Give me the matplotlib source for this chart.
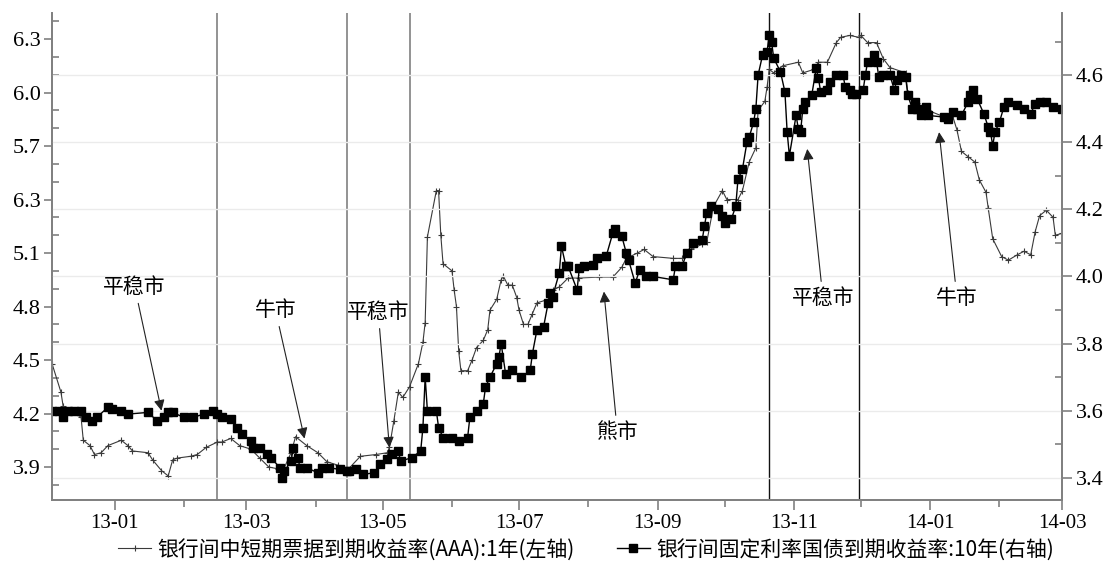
import numpy as np
import pandas as pd
import matplotlib
matplotlib.use("Agg")
import matplotlib.pyplot as plt
import matplotlib.dates as mdates
from matplotlib.ticker import FixedLocator, FixedFormatter, MultipleLocator

#%% - données

# 银行间中短期票据到期收益率(AAA):1年 (axe gauche)
s1_dates = [
    "2012-12-04", "2012-12-08", "2012-12-09", "2012-12-12", "2012-12-17", "2012-12-18",
    "2012-12-21", "2012-12-23", "2012-12-26", "2012-12-29", "2013-01-04", "2013-01-07",
    "2013-01-09", "2013-01-16", "2013-01-18", "2013-01-22", "2013-01-25", "2013-01-27",
    "2013-01-29", "2013-02-04", "2013-02-07", "2013-02-11", "2013-02-16", "2013-02-18",
    "2013-02-22", "2013-02-26", "2013-03-03", "2013-03-07", "2013-03-11", "2013-03-15",
    "2013-03-17", "2013-03-21", "2013-03-23", "2013-03-28", "2013-04-02", "2013-04-06",
    "2013-04-11", "2013-04-15", "2013-04-21", "2013-04-28", "2013-05-03", "2013-05-04",
    "2013-05-06", "2013-05-08", "2013-05-10", "2013-05-13", "2013-05-17", "2013-05-19",
    "2013-05-20", "2013-05-21", "2013-05-25", "2013-05-26", "2013-05-27", "2013-05-28",
    "2013-06-01", "2013-06-02", "2013-06-03", "2013-06-04", "2013-06-05", "2013-06-08",
    "2013-06-10", "2013-06-12", "2013-06-15", "2013-06-17", "2013-06-18", "2013-06-21",
    "2013-06-23", "2013-06-24", "2013-06-26", "2013-06-28", "2013-06-30", "2013-07-01",
    "2013-07-03", "2013-07-05", "2013-07-07", "2013-07-09", "2013-07-14", "2013-07-16",
    "2013-07-19", "2013-07-23", "2013-07-28", "2013-08-06", "2013-08-12", "2013-08-16",
    "2013-08-18", "2013-08-23", "2013-08-26", "2013-08-30", "2013-09-08", "2013-09-12",
    "2013-09-16", "2013-09-21", "2013-09-23", "2013-09-26", "2013-09-30", "2013-10-02",
    "2013-10-07", "2013-10-09", "2013-10-12", "2013-10-15", "2013-10-16", "2013-10-19",
    "2013-10-20", "2013-10-21", "2013-10-23", "2013-10-27", "2013-11-03", "2013-11-05",
    "2013-11-10", "2013-11-12", "2013-11-16", "2013-11-20", "2013-11-22", "2013-11-26",
    "2013-11-30", "2013-12-01", "2013-12-04", "2013-12-08", "2013-12-11", "2013-12-14",
    "2013-12-21", "2013-12-22", "2013-12-26", "2013-12-31", "2014-01-06", "2014-01-11",
    "2014-01-13", "2014-01-15", "2014-01-18", "2014-01-21", "2014-01-23", "2014-01-26",
    "2014-01-27", "2014-01-29", "2014-02-02", "2014-02-05", "2014-02-09", "2014-02-12",
    "2014-02-15", "2014-02-17", "2014-02-19", "2014-02-22", "2014-02-25", "2014-02-26",
    "2014-03-01",
]
s1_vals = [
    4.48, 4.32, 4.24, 4.22, 4.18, 4.05,
    4.02, 3.97, 3.98, 4.02, 4.05, 4.02,
    3.99, 3.98, 3.94, 3.88, 3.85, 3.94,
    3.95, 3.96, 3.97, 4.01, 4.04, 4.04,
    4.06, 4.02, 4.00, 3.95, 3.90, 3.89,
    3.87, 3.98, 4.07, 4.02, 3.98, 3.93,
    3.91, 3.88, 3.96, 3.97, 3.98, 4.01,
    4.16, 4.32, 4.29, 4.35, 4.48, 4.60,
    4.71, 5.19, 5.45, 5.45, 5.20, 5.04,
    5.00, 4.89, 4.80, 4.55, 4.44, 4.44,
    4.50, 4.57, 4.61, 4.67, 4.78, 4.84,
    4.95, 4.97, 4.92, 4.92, 4.85, 4.78,
    4.70, 4.70, 4.76, 4.82, 4.84, 4.89,
    4.91, 4.96, 4.96, 4.965, 4.965, 5.02,
    5.07, 5.10, 5.12, 5.08, 5.07, 5.07,
    5.12, 5.15, 5.16, 5.36, 5.45, 5.40,
    5.40, 5.45, 5.61, 5.69, 5.90, 5.95,
    6.03, 6.13, 6.11, 6.15, 6.17, 6.11,
    6.13, 6.17, 6.17, 6.28, 6.31, 6.32,
    6.31, 6.32, 6.28, 6.28, 6.19, 6.14,
    6.11, 6.00, 5.94, 5.90, 5.87, 5.87,
    5.79, 5.67, 5.64, 5.61, 5.51, 5.44,
    5.35, 5.18, 5.08, 5.06, 5.09, 5.11,
    5.09, 5.22, 5.31, 5.34, 5.30, 5.20,
    5.21,
]

# 银行间固定利率国债到期收益率:10年 (axe droit)
s2_dates = [
    "2012-12-04", "2012-12-07", "2012-12-09", "2012-12-11", "2012-12-14", "2012-12-17",
    "2012-12-19", "2012-12-22", "2012-12-24", "2012-12-29", "2012-12-31", "2013-01-04",
    "2013-01-07", "2013-01-16", "2013-01-20", "2013-01-23", "2013-01-25", "2013-01-27",
    "2013-02-01", "2013-02-05", "2013-02-10", "2013-02-14", "2013-02-16", "2013-02-18",
    "2013-02-22", "2013-02-25", "2013-02-27", "2013-03-03", "2013-03-04", "2013-03-07",
    "2013-03-10", "2013-03-12", "2013-03-16", "2013-03-17", "2013-03-18", "2013-03-21",
    "2013-03-22", "2013-03-24", "2013-03-25", "2013-03-28", "2013-04-02", "2013-04-04",
    "2013-04-07", "2013-04-12", "2013-04-15", "2013-04-16", "2013-04-19", "2013-04-22",
    "2013-04-27", "2013-04-30", "2013-05-03", "2013-05-05", "2013-05-08", "2013-05-09",
    "2013-05-14", "2013-05-18", "2013-05-19", "2013-05-20", "2013-05-21", "2013-05-25",
    "2013-05-26", "2013-05-28", "2013-06-01", "2013-06-04", "2013-06-08", "2013-06-09",
    "2013-06-12", "2013-06-15", "2013-06-16", "2013-06-18", "2013-06-21", "2013-06-22",
    "2013-06-23", "2013-06-25", "2013-06-28", "2013-07-02", "2013-07-06", "2013-07-07",
    "2013-07-09", "2013-07-12", "2013-07-14", "2013-07-15", "2013-07-16", "2013-07-19",
    "2013-07-20", "2013-07-22", "2013-07-23", "2013-07-27", "2013-07-28", "2013-07-30",
    "2013-08-03", "2013-08-05", "2013-08-09", "2013-08-12", "2013-08-13", "2013-08-16",
    "2013-08-18", "2013-08-19", "2013-08-22", "2013-08-24", "2013-08-27", "2013-08-30",
    "2013-09-08", "2013-09-09", "2013-09-12", "2013-09-14", "2013-09-17", "2013-09-21",
    "2013-09-22", "2013-09-23", "2013-09-25", "2013-09-28", "2013-09-30", "2013-10-01",
    "2013-10-04", "2013-10-06", "2013-10-07", "2013-10-09", "2013-10-11", "2013-10-12",
    "2013-10-14", "2013-10-15", "2013-10-16", "2013-10-18", "2013-10-20", "2013-10-21",
    "2013-10-22", "2013-10-23", "2013-10-26", "2013-10-28", "2013-10-29", "2013-10-30",
    "2013-11-02", "2013-11-03", "2013-11-04", "2013-11-05", "2013-11-06", "2013-11-09",
    "2013-11-11", "2013-11-12", "2013-11-13", "2013-11-16", "2013-11-17", "2013-11-20",
    "2013-11-23", "2013-11-24", "2013-11-26", "2013-11-27", "2013-11-29", "2013-12-02",
    "2013-12-03", "2013-12-04", "2013-12-07", "2013-12-08", "2013-12-09", "2013-12-11",
    "2013-12-14", "2013-12-16", "2013-12-17", "2013-12-19", "2013-12-21", "2013-12-22",
    "2013-12-24", "2013-12-25", "2013-12-26", "2013-12-28", "2013-12-30", "2013-12-31",
    "2014-01-07", "2014-01-09", "2014-01-11", "2014-01-15", "2014-01-18", "2014-01-19",
    "2014-01-20", "2014-01-22", "2014-01-25", "2014-01-27", "2014-01-28", "2014-01-29",
    "2014-01-30", "2014-02-01", "2014-02-03", "2014-02-05", "2014-02-09", "2014-02-12",
    "2014-02-15", "2014-02-17", "2014-02-19", "2014-02-22", "2014-02-25", "2014-03-01",
]
s2_vals = [
    3.60, 3.60, 3.58, 3.60, 3.60, 3.60,
    3.58, 3.57, 3.58, 3.61, 3.605, 3.60,
    3.59, 3.595, 3.57, 3.58, 3.595, 3.595,
    3.58, 3.58, 3.59, 3.60, 3.59, 3.58,
    3.575, 3.55, 3.53, 3.51, 3.49, 3.49,
    3.47, 3.46, 3.43, 3.40, 3.42, 3.45,
    3.49, 3.46, 3.43, 3.43, 3.415, 3.43,
    3.43, 3.425, 3.42, 3.42, 3.425, 3.41,
    3.415, 3.44, 3.455, 3.47, 3.48, 3.45,
    3.46, 3.48, 3.55, 3.70, 3.60, 3.60,
    3.55, 3.52, 3.52, 3.51, 3.52, 3.58,
    3.60, 3.62, 3.67, 3.70, 3.74, 3.76,
    3.80, 3.71, 3.72, 3.70, 3.72, 3.77,
    3.84, 3.85, 3.92, 3.95, 3.94, 4.01,
    4.09, 4.03, 4.03, 3.96, 4.025, 4.03,
    4.035, 4.055, 4.06, 4.13, 4.14, 4.12,
    4.07, 4.05, 3.98, 4.02, 4.00, 4.00,
    3.99, 4.03, 4.03, 4.07, 4.10, 4.11,
    4.15, 4.19, 4.21, 4.20, 4.18, 4.16,
    4.17, 4.21, 4.29, 4.32, 4.40, 4.415,
    4.46, 4.50, 4.60, 4.66, 4.67, 4.72,
    4.70, 4.65, 4.61, 4.55, 4.43, 4.36,
    4.48, 4.44, 4.43, 4.50, 4.52, 4.54,
    4.62, 4.59, 4.55, 4.555, 4.58, 4.60,
    4.60, 4.565, 4.555, 4.545, 4.545, 4.555,
    4.60, 4.64, 4.66, 4.64, 4.595, 4.60,
    4.60, 4.555, 4.585, 4.60, 4.595, 4.54,
    4.50, 4.52, 4.50, 4.48, 4.505, 4.48,
    4.475, 4.47, 4.49, 4.48, 4.52, 4.54,
    4.555, 4.53, 4.485, 4.445, 4.43, 4.39,
    4.43, 4.46, 4.505, 4.52, 4.51, 4.50,
    4.485, 4.515, 4.52, 4.52, 4.505, 4.50,
]

# lignes verticales de séparation des phases
phase_dates = ["2013-02-16", "2013-04-15", "2013-05-13", "2013-10-21", "2013-11-30"]
phase_colors = ["#808080", "#808080", "#808080", "#111111", "#111111"]

# étiquettes de l'axe gauche (telles qu'imprimées sur l'original)
left_ticks = [3.9, 4.2, 4.5, 4.8, 5.1, 5.4, 5.7, 6.0, 6.3]
left_labels = ["3.9", "4.2", "4.5", "4.8", "5.1", "6.3", "5.7", "6.0", "6.3"]
right_ticks = [3.4, 3.6, 3.8, 4.0, 4.2, 4.4, 4.6]

# annotations : texte, date du texte, y du texte, date de la flèche, y de la flèche (axe droit)
notes = [
    ("平稳市", "2013-01-10", 3.969, "2013-01-22", 3.600),
    ("牛市", "2013-03-14", 3.900, "2013-03-27", 3.517),
    ("平稳市", "2013-04-29", 3.894, "2013-05-04", 3.490),
    ("熊市", "2013-08-14", 3.537, "2013-08-08", 3.955),
    ("平稳市", "2013-11-14", 3.936, "2013-11-07", 4.380),
    ("牛市", "2014-01-13", 3.936, "2014-01-05", 4.430),
]

label1 = "银行间中短期票据到期收益率(AAA):1年(左轴)"
label2 = "银行间固定利率国债到期收益率:10年(右轴)"

#%% - tracé
plt.rcParams['font.family'] = ['Noto Sans CJK SC', 'DejaVu Sans']
num_font = "Liberation Serif"

fig = plt.figure(figsize=(11.12, 5.67), dpi=100)
ax = fig.add_axes([52 / 1112, 1 - 500 / 567, (1062 - 52) / 1112, (500 - 13) / 567])
ax2 = ax.twinx()

d1 = pd.to_datetime(s1_dates)
d2 = pd.to_datetime(s2_dates)

l1, = ax.plot(d1, s1_vals, color="#3a3a3a", lw=0.8, marker="+", ms=5, mew=0.8)
l2, = ax2.plot(d2, s2_vals, color="black", lw=1.0, marker="s", ms=5.3)

for d, c in zip(phase_dates, phase_colors):
    ax.axvline(pd.Timestamp(d), color=c, lw=1.2 if c == "#808080" else 1.0, zorder=1)

ax.set_xlim(pd.Timestamp("2012-12-04"), pd.Timestamp("2014-03-01"))
ax.set_ylim(3.715, 6.446)
ax2.set_ylim(3.334, 4.785)

# axe x
ax.xaxis.set_major_locator(mdates.MonthLocator(bymonth=[1, 3, 5, 7, 9, 11]))
ax.xaxis.set_major_formatter(mdates.DateFormatter("%y-%m"))
ax.xaxis.set_minor_locator(mdates.MonthLocator(bymonth=[2, 4, 6, 8, 10, 12]))

# axe gauche
ax.yaxis.set_major_locator(FixedLocator(left_ticks))
ax.yaxis.set_major_formatter(FixedFormatter(left_labels))
ax.yaxis.set_minor_locator(MultipleLocator(0.1))

# axe droit
ax2.yaxis.set_major_locator(FixedLocator(right_ticks))
ax2.yaxis.set_minor_locator(MultipleLocator(0.1))
ax2.yaxis.set_major_formatter(plt.FuncFormatter(lambda v, p: f"{v:.1f}"))
ax2.grid(True, axis="y", color="#ebebeb", lw=1)
ax2.set_axisbelow(True)

for a in (ax, ax2):
    for s in a.spines.values():
        s.set_color("#808080")
        s.set_linewidth(1.3)
    a.spines["top"].set_visible(False)

ax.tick_params(axis="x", which="major", direction="out", length=7, width=1.2, color="#808080",
               labelsize=15, pad=3)
ax.tick_params(axis="x", which="minor", direction="out", length=5, width=1.2, color="#808080")
ax.tick_params(axis="y", which="major", direction="out", length=6, width=1.2, color="#808080",
               labelsize=16, pad=2)
ax.tick_params(axis="y", which="minor", direction="in", length=5, width=1.2, color="#808080")
ax2.tick_params(axis="y", which="major", direction="out", length=7, width=1.2, color="#808080",
                labelsize=16, pad=3)
ax2.tick_params(axis="y", which="minor", direction="in", length=5, width=1.2, color="#808080")

for lab in ax.get_xticklabels() + ax.get_yticklabels() + ax2.get_yticklabels():
    lab.set_fontfamily(num_font)

# annotations avec flèches
for txt, dt, yt, da, ya in notes:
    ax2.annotate(txt, xy=(pd.Timestamp(da), ya), xytext=(pd.Timestamp(dt), yt),
                 ha="center", va="center", fontsize=15,
                 arrowprops=dict(arrowstyle="-|>", color="#222222", lw=0.8,
                                 mutation_scale=16, shrinkA=2, shrinkB=0))

fig.legend([l1, l2], [label1, label2], loc="lower center", ncol=2, frameon=False,
           fontsize=15, bbox_to_anchor=(0.527, -0.022), handlelength=1.6,
           handletextpad=0.3, columnspacing=2.0)

fig.savefig("out.png", dpi=100)
